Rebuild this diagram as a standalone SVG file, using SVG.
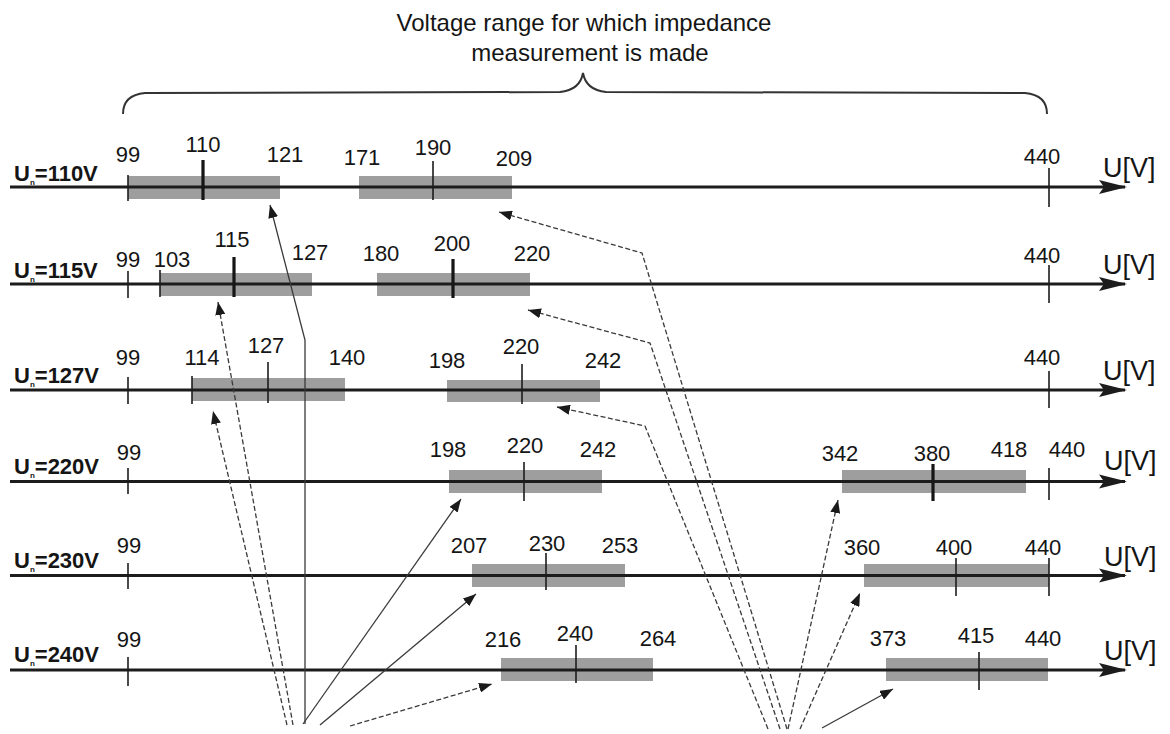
<svg xmlns="http://www.w3.org/2000/svg" width="1170" height="734" viewBox="0 0 1170 734">
<style>
  text { font-family: "Liberation Sans", Arial, sans-serif; fill: #151515; }
  .num { font-size: 22px; text-anchor: middle; }
  .unit { font-size: 27px; }
  .rl { font-size: 22px; font-weight: bold; }
  .sub { font-size: 8px; }
  .title { font-size: 24px; text-anchor: middle; }
  .axis { stroke: #1c1c1c; stroke-width: 3; fill: none; }
  .box { fill: #9e9e9e; }
  .tk { stroke: #1c1c1c; stroke-width: 1.6; }
  .tkb { stroke: #151515; stroke-width: 3.2; }
  .con { stroke: #3a3a3a; stroke-width: 1.3; fill: none; marker-end: url(#ah); }
  .dash { stroke-dasharray: 5 2.5; }
  .brace { stroke: #333; stroke-width: 2; fill: none; }
</style>
<defs>
  <marker id="ah" markerUnits="userSpaceOnUse" markerWidth="13" markerHeight="10" viewBox="0 0 13 10" refX="13" refY="5" orient="auto">
    <path d="M0,0 L13,5 L0,10 z" fill="#1a1a1a"/>
  </marker>
  <marker id="ax" markerUnits="userSpaceOnUse" markerWidth="28" markerHeight="15" viewBox="0 0 28 15" refX="26" refY="7.5" orient="auto">
    <path d="M0,0.5 L28,7.5 L0,14.5 L5,7.5 z" fill="#1c1c1c"/>
  </marker>
</defs>

<g id="title">
  <text class="title" x="584" y="31">Voltage range for which impedance</text>
  <text class="title" x="590" y="61">measurement is made</text>
  <path class="brace" d="M123,114 Q123,95 145,93 L560,92 Q580,90 583,73 Q586,90 606,92 L1025,93 Q1047,95 1047,114"/>
</g>

<!-- Row 1: Un=110V -->
<g id="row-110">
  <rect class="box" x="128" y="176" width="152" height="23"/>
  <rect class="box" x="359" y="176" width="153" height="23"/>
  <line class="axis" x1="10" y1="187" x2="1125" y2="187" marker-end="url(#ax)"/>
  <line class="tk" x1="128" y1="175" x2="128" y2="201"/>
  <line class="tkb" x1="203" y1="160" x2="203" y2="200"/>
  <line class="tk" x1="433" y1="161" x2="433" y2="200"/>
  <line class="tk" x1="1049" y1="168" x2="1049" y2="207"/>
  <text class="rl" x="14" y="181">U<tspan class="sub" dy="4">n</tspan><tspan dy="-4">=110V</tspan></text>
  <text class="num" x="128" y="162">99</text>
  <text class="num" x="203" y="152">110</text>
  <text class="num" x="285" y="162">121</text>
  <text class="num" x="362" y="165">171</text>
  <text class="num" x="433" y="155">190</text>
  <text class="num" x="514" y="166">209</text>
  <text class="num" x="1042" y="164">440</text>
  <text class="unit" x="1103" y="177">U[V]</text>
</g>

<!-- Row 2: Un=115V -->
<g id="row-115">
  <rect class="box" x="160" y="273" width="152" height="23"/>
  <rect class="box" x="377" y="273" width="153" height="23"/>
  <line class="axis" x1="10" y1="284" x2="1125" y2="284" marker-end="url(#ax)"/>
  <line class="tk" x1="128" y1="271" x2="128" y2="298"/>
  <line class="tk" x1="160" y1="270" x2="160" y2="297"/>
  <line class="tkb" x1="234" y1="257" x2="234" y2="297"/>
  <line class="tkb" x1="453" y1="259" x2="453" y2="298"/>
  <line class="tk" x1="1049" y1="265" x2="1049" y2="303"/>
  <text class="rl" x="14" y="278">U<tspan class="sub" dy="4">n</tspan><tspan dy="-4">=115V</tspan></text>
  <text class="num" x="128" y="267">99</text>
  <text class="num" x="172" y="267">103</text>
  <text class="num" x="232" y="247">115</text>
  <text class="num" x="310" y="260">127</text>
  <text class="num" x="381" y="261">180</text>
  <text class="num" x="452" y="251">200</text>
  <text class="num" x="532" y="261">220</text>
  <text class="num" x="1042" y="263">440</text>
  <text class="unit" x="1103" y="274">U[V]</text>
</g>

<!-- Row 3: Un=127V -->
<g id="row-127">
  <rect class="box" x="192" y="378" width="153" height="23"/>
  <rect class="box" x="447" y="380" width="153" height="22"/>
  <line class="axis" x1="10" y1="390" x2="1125" y2="390" marker-end="url(#ax)"/>
  <line class="tk" x1="128" y1="377" x2="128" y2="404"/>
  <line class="tk" x1="192" y1="376" x2="192" y2="404"/>
  <line class="tk" x1="268" y1="362" x2="268" y2="403"/>
  <line class="tk" x1="522" y1="364" x2="522" y2="404"/>
  <line class="tk" x1="1049" y1="371" x2="1049" y2="408"/>
  <text class="rl" x="14" y="383">U<tspan class="sub" dy="4">n</tspan><tspan dy="-4">=127V</tspan></text>
  <text class="num" x="128" y="365">99</text>
  <text class="num" x="202" y="365">114</text>
  <text class="num" x="266" y="353">127</text>
  <text class="num" x="347" y="365">140</text>
  <text class="num" x="447" y="368">198</text>
  <text class="num" x="521" y="354">220</text>
  <text class="num" x="603" y="368">242</text>
  <text class="num" x="1042" y="365">440</text>
  <text class="unit" x="1103" y="380">U[V]</text>
</g>

<!-- Row 4: Un=220V -->
<g id="row-220">
  <rect class="box" x="449" y="470" width="153" height="23"/>
  <rect class="box" x="842" y="470" width="184" height="23"/>
  <line class="axis" x1="10" y1="481.5" x2="1125" y2="481.5" marker-end="url(#ax)"/>
  <line class="tk" x1="128" y1="468" x2="128" y2="494"/>
  <line class="tk" x1="524" y1="462" x2="524" y2="501"/>
  <line class="tkb" x1="933" y1="464" x2="933" y2="501"/>
  <line class="tk" x1="1049" y1="468" x2="1049" y2="500"/>
  <text class="rl" x="14" y="474">U<tspan class="sub" dy="4">n</tspan><tspan dy="-4">=220V</tspan></text>
  <text class="num" x="129" y="460">99</text>
  <text class="num" x="448" y="457">198</text>
  <text class="num" x="525" y="453">220</text>
  <text class="num" x="598" y="457">242</text>
  <text class="num" x="840" y="461">342</text>
  <text class="num" x="932" y="461">380</text>
  <text class="num" x="1009" y="457">418</text>
  <text class="num" x="1067" y="457">440</text>
  <text class="unit" x="1104" y="470">U[V]</text>
</g>

<!-- Row 5: Un=230V -->
<g id="row-230">
  <rect class="box" x="472" y="564" width="153" height="23"/>
  <rect class="box" x="864" y="564" width="185" height="23"/>
  <line class="axis" x1="10" y1="575.5" x2="1125" y2="575.5" marker-end="url(#ax)"/>
  <line class="tk" x1="128" y1="563" x2="128" y2="589"/>
  <line class="tk" x1="546" y1="553" x2="546" y2="590"/>
  <line class="tk" x1="956" y1="558" x2="956" y2="596"/>
  <line class="tk" x1="1049" y1="558" x2="1049" y2="596"/>
  <text class="rl" x="14" y="568">U<tspan class="sub" dy="4">n</tspan><tspan dy="-4">=230V</tspan></text>
  <text class="num" x="129" y="553">99</text>
  <text class="num" x="469" y="553">207</text>
  <text class="num" x="547" y="551">230</text>
  <text class="num" x="620" y="553">253</text>
  <text class="num" x="862" y="555">360</text>
  <text class="num" x="954" y="555">400</text>
  <text class="num" x="1043" y="555">440</text>
  <text class="unit" x="1104" y="566">U[V]</text>
</g>

<!-- Row 6: Un=240V -->
<g id="row-240">
  <rect class="box" x="501" y="658" width="152" height="23"/>
  <rect class="box" x="886" y="658" width="162" height="23"/>
  <line class="axis" x1="10" y1="670" x2="1125" y2="670" marker-end="url(#ax)"/>
  <line class="tk" x1="128" y1="657" x2="128" y2="686"/>
  <line class="tk" x1="576" y1="645" x2="576" y2="683"/>
  <line class="tk" x1="979" y1="652" x2="979" y2="690"/>
  <text class="rl" x="14" y="662">U<tspan class="sub" dy="4">n</tspan><tspan dy="-4">=240V</tspan></text>
  <text class="num" x="129" y="647">99</text>
  <text class="num" x="503" y="647">216</text>
  <text class="num" x="575" y="641">240</text>
  <text class="num" x="658" y="646">264</text>
  <text class="num" x="888" y="646">373</text>
  <text class="num" x="976" y="643">415</text>
  <text class="num" x="1043" y="646">440</text>
  <text class="unit" x="1104" y="660">U[V]</text>
</g>

<g id="connectors">
  <polyline class="con" points="305,724 305,340 270,205"/>
  <line class="con dash" x1="293" y1="725" x2="218" y2="302"/>
  <line class="con dash" x1="287" y1="725" x2="213" y2="411"/>
  <line class="con" x1="303" y1="724" x2="461" y2="499"/>
  <line class="con" x1="320" y1="725" x2="476" y2="594"/>
  <line class="con dash" x1="350" y1="726" x2="492" y2="684"/>
  <polyline class="con dash" points="787,729 642,253 499,212"/>
  <polyline class="con dash" points="780,729 650,343 528,310"/>
  <polyline class="con dash" points="768,729 645,426 557,407"/>
  <line class="con dash" x1="788" y1="729" x2="838" y2="500"/>
  <line class="con dash" x1="800" y1="729" x2="860" y2="593"/>
  <line class="con" x1="822" y1="728" x2="893" y2="689"/>
</g>
</svg>
